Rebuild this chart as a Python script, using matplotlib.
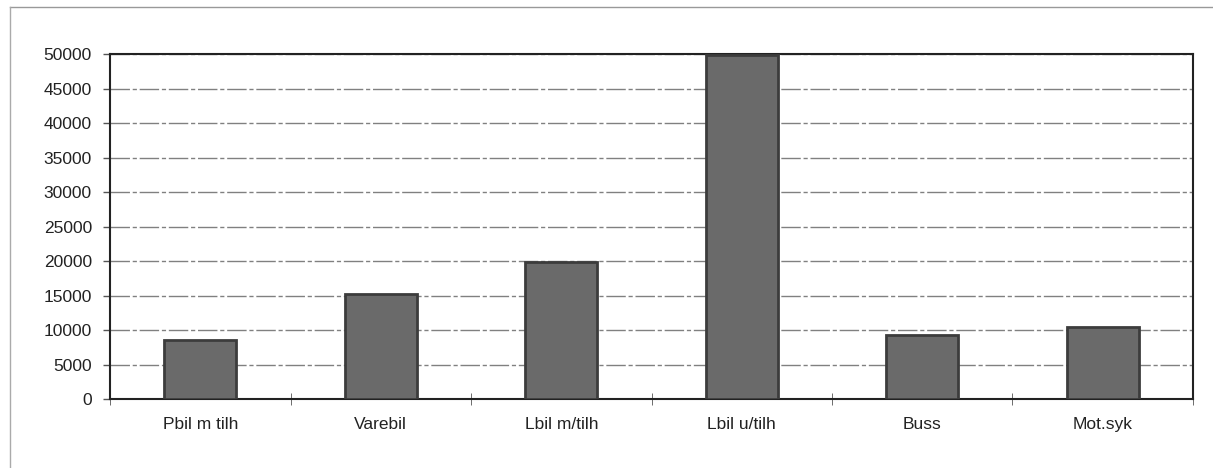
import numpy as np
from matplotlib import pyplot as plt

categories = ['Pbil m tilh', 'Varebil', 'Lbil m/tilh', 'Lbil u/tilh', 'Buss', 'Mot.syk']
values = [8500, 15200, 19900, 49800, 9300, 10500]
yticks = [0, 5000, 10000, 15000, 20000, 25000, 30000, 35000, 40000, 45000, 50000]

plt.rcParams['font.family'] = ['Liberation Sans', 'DejaVu Sans']

fig = plt.figure(figsize=(12.13, 4.68), dpi=100)
ax = fig.add_axes([0.0907, 0.1474, 0.8928, 0.7372])

x = np.arange(len(categories))
ax.bar(x, values, width=0.4, color='#6a6a6a', edgecolor='#3c3c3c', linewidth=2, zorder=3)

ax.set_xlim(-0.5, len(categories) - 0.5)
ax.set_ylim(0, 50000)
ax.set_yticks(yticks)
ax.set_yticklabels([str(v) for v in yticks], fontsize=12.5, color='#222222')
ax.set_xticks(x)
ax.set_xticklabels(categories, fontsize=12.5, color='#222222')
ax.tick_params(axis='x', length=0, pad=13)
ax.tick_params(axis='y', length=5, width=1, color='#555555', pad=8)

# category separators on the x axis
ax.set_xticks(np.arange(-0.5, len(categories), 1), minor=True)
ax.tick_params(axis='x', which='minor', length=8, direction='inout', color='#555555')

ax.yaxis.grid(True, color='#808080', linewidth=1, linestyle=(0, (14, 2, 3, 2)), zorder=0)
for s in ax.spines.values():
    s.set_color('#222222')
    s.set_linewidth(1.5)

# outer chart area border (scan shows top and left edge)
fig.add_artist(plt.Line2D([0.008, 1.0], [0.985, 0.985], color='#999999', linewidth=1))
fig.add_artist(plt.Line2D([0.008, 0.008], [0.0, 0.985], color='#aaaaaa', linewidth=1))

plt.savefig('out.png', dpi=100)
